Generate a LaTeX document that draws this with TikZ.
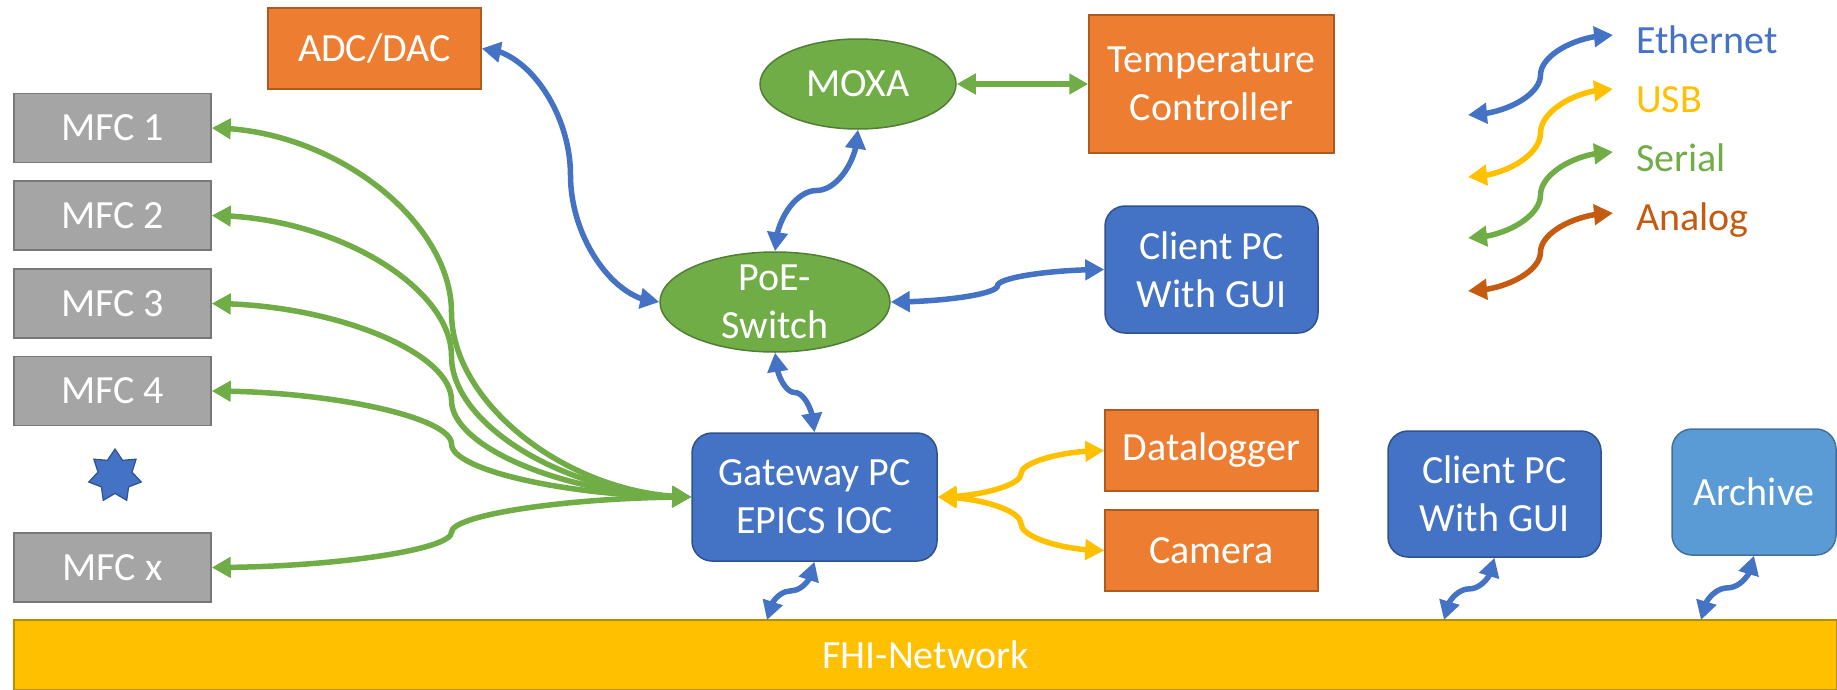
\documentclass[tikz,border=0pt]{standalone}
\usepackage{fontspec}
\setmainfont{Carlito}
\usetikzlibrary{arrows.meta,bending,calc,shapes.geometric}
\definecolor{cOrange}{HTML}{ED7D31}
\definecolor{cOrangeD}{HTML}{AE5A21}
\definecolor{cGray}{HTML}{A5A5A5}
\definecolor{cGrayD}{HTML}{787878}
\definecolor{cBlue}{HTML}{4472C4}
\definecolor{cBlueD}{HTML}{2F528F}
\definecolor{cGreen}{HTML}{70AD47}
\definecolor{cGreenD}{HTML}{507E32}
\definecolor{cYellow}{HTML}{FFC000}
\definecolor{cYellowD}{HTML}{BC8C00}
\definecolor{cLBlue}{HTML}{5B9BD5}
\definecolor{cLBlueD}{HTML}{41719C}
\definecolor{cAnalog}{HTML}{C55A11}
\begin{document}
\begin{tikzpicture}[x=1pt,y=-1pt,
  every node/.style={font=\fontsize{40}{48}\selectfont, text=white, inner sep=0pt, align=center},
  box/.style={rectangle, line width=1.5pt},
  orangebox/.style={box, fill=cOrange, draw=cOrangeD},
  graybox/.style={box, fill=cGray, draw=cGrayD, minimum width=197pt, minimum height=69pt},
  bluebox/.style={box, rounded corners=20pt, fill=cBlue, draw=cBlueD},
  greenell/.style={ellipse, fill=cGreen, draw=cGreenD, line width=1.5pt, inner sep=-10pt},
  legtext/.style={anchor=base west, align=left},
  conn/.style={line width=5.5pt, {Triangle[length=19pt,width=20pt]}-{Triangle[length=19pt,width=20pt]}},
  eth/.style={conn, draw=cBlue},
  ser/.style={conn, draw=cGreen},
  usb/.style={conn, draw=cYellow},
  ana/.style={conn, draw=cAnalog},
  hcurve/.style={to path={
    let \p1=(\tikztostart), \p2=(\tikztotarget), \p3=($(\p1)!0.5!(\p2)$) in
    .. controls ({0.5*\x1+0.5*\x3},\y1) and (\x3,{0.5*\y1+0.5*\y3}) .. (\p3)
    .. controls (\x3,{0.5*\y3+0.5*\y2}) and ({0.5*\x3+0.5*\x2},\y2) .. (\p2) \tikztonodes}},
  vcurve/.style={to path={
    let \p1=(\tikztostart), \p2=(\tikztotarget), \p3=($(\p1)!0.5!(\p2)$) in
    .. controls (\x1,{0.5*\y1+0.5*\y3}) and ({0.5*\x1+0.5*\x3},\y3) .. (\p3)
    .. controls ({0.5*\x3+0.5*\x2},\y3) and (\x2,{0.5*\y3+0.5*\y2}) .. (\p2) \tikztonodes}}
]
\useasboundingbox (0,0) rectangle (1837,689);

% network bar
\node[box, fill=cYellow, draw=cYellowD, minimum width=1823pt, minimum height=70pt] (fhi) at (925.5,655) {FHI-Network};
\coordinate (f1) at (767,620);
\coordinate (f2) at (1444,620);
\coordinate (f3) at (1701,620);

% MFCs
\node[graybox] (mfc1) at (112.5,128) {MFC 1};
\node[graybox] (mfc2) at (112.5,215.5) {MFC 2};
\node[graybox] (mfc3) at (112.5,303.5) {MFC 3};
\node[graybox] (mfc4) at (112.5,391) {MFC 4};
\node[graybox] (mfcx) at (112.5,567.5) {MFC x};
\node[star, star points=7, star point ratio=1.55, minimum size=54pt, fill=cBlue, draw=cBlueD, line width=1.2pt] (dots) at (115,476) {};

% top devices
\node[orangebox, minimum width=213pt, minimum height=81pt] (adc) at (374.5,48.5) {ADC/DAC};
\node[greenell, minimum width=196pt, minimum height=90pt] (moxa) at (858,84) {MOXA};
\node[orangebox, minimum width=245pt, minimum height=138pt] (temp) at (1211.5,84) {Temperature\\Controller};
\node[greenell, minimum width=230pt, minimum height=100pt] (poe) at (775,302) {PoE-\\Switch};
\node[bluebox, minimum width=213pt, minimum height=127pt] (cl1) at (1211.5,269.5) {Client PC\\With GUI};

% gateway and peripherals
\node[bluebox, minimum width=245pt, minimum height=128pt] (gw) at (814.5,497) {Gateway PC\\EPICS IOC};
\node[orangebox, minimum width=213pt, minimum height=81pt] (dlog) at (1211.5,450.5) {Datalogger};
\node[orangebox, minimum width=213pt, minimum height=81pt] (cam) at (1211.5,550.5) {Camera};
\node[bluebox, minimum width=213pt, minimum height=126pt] (cl2) at (1494.5,494) {Client PC\\With GUI};
\node[box, rounded corners=20pt, fill=cLBlue, draw=cLBlueD, minimum width=164pt, minimum height=126pt] (arch) at (1754,492) {Archive};

% serial connectors
\draw[ser] (mfc1.east) to[hcurve] (gw.west);
\draw[ser] (mfc2.east) to[hcurve] (gw.west);
\draw[ser] (mfc3.east) to[hcurve] (gw.west);
\draw[ser] (mfc4.east) to[hcurve] (gw.west);
\draw[ser] (mfcx.east) to[hcurve] (gw.west);
\draw[ser] (moxa.east) -- (temp.west);

% ethernet connectors
\draw[eth] (adc.east) to[hcurve] (poe.west);
\draw[eth] (moxa.south) to[vcurve] (poe.north);
\draw[eth] (poe.east) to[hcurve] (cl1.west);
\draw[eth] (poe.south) to[vcurve] (gw.north);
\draw[eth] (gw.south) to[vcurve] (f1);
\draw[eth] (cl2.south) to[vcurve] (f2);
\draw[eth] (arch.south) to[vcurve] (f3);

% usb connectors
\draw[usb] (gw.east) to[hcurve] (dlog.west);
\draw[usb] (gw.east) to[hcurve] (cam.west);

% legend
\coordinate (e1) at (1468,115); \coordinate (e2) at (1613,35);
\coordinate (u1) at (1468,177); \coordinate (u2) at (1613,89);
\coordinate (s1) at (1468,238); \coordinate (s2) at (1613,152);
\coordinate (a1) at (1468,291); \coordinate (a2) at (1613,213);
\draw[eth] (e1) to[hcurve] (e2);
\draw[usb] (u1) to[hcurve] (u2);
\draw[ser] (s1) to[hcurve] (s2);
\draw[ana] (a1) to[hcurve] (a2);
\node[legtext, text=cBlue] (lEth) at (1636,53) {Ethernet};
\node[legtext, text=cYellow] (lUsb) at (1636,112) {USB};
\node[legtext, text=cGreen] (lSer) at (1636,171) {Serial};
\node[legtext, text=cAnalog] (lAna) at (1636,230) {Analog};
\end{tikzpicture}
\end{document}
